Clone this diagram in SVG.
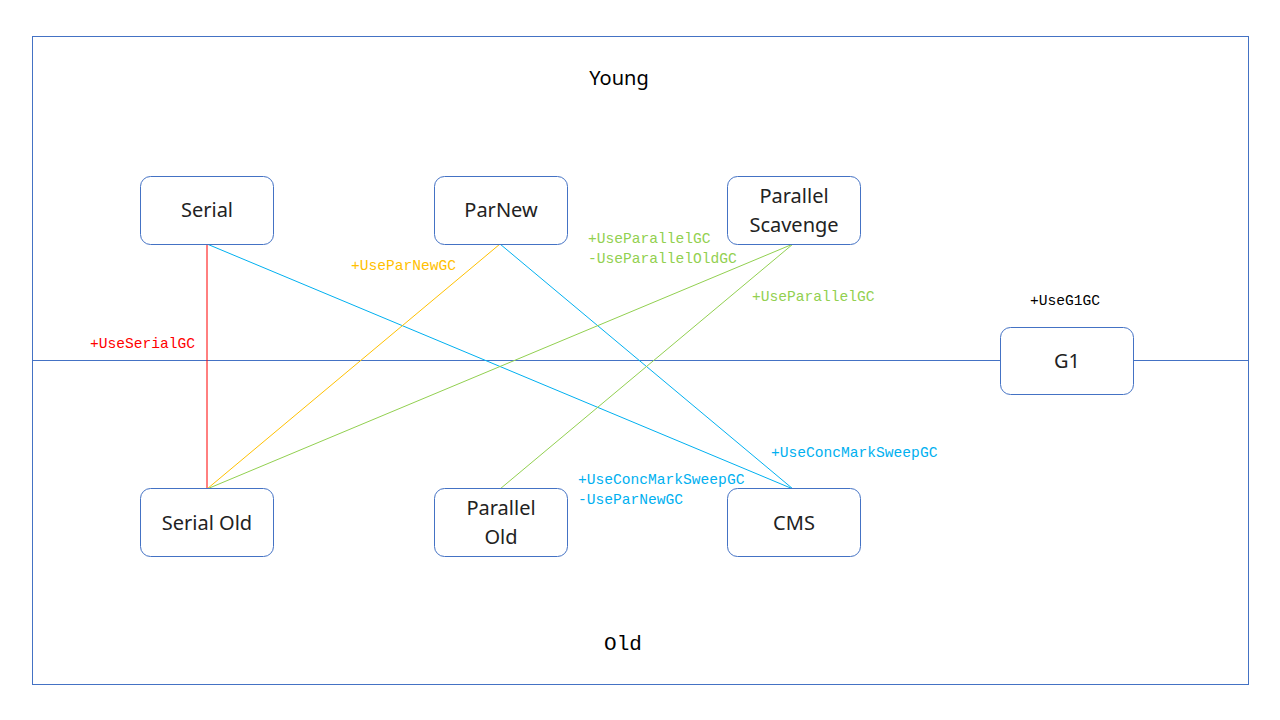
<svg xmlns="http://www.w3.org/2000/svg" width="1280" height="720" viewBox="0 0 1280 720">
<style>
.frame{fill:none;stroke:#4472C4;stroke-width:1}
.node rect{fill:#fff;stroke:#4472C4;stroke-width:1}
.node text{font-family:"Noto Sans","Liberation Sans",sans-serif;font-size:20px;fill:#222;text-anchor:middle}
.mono{font-family:"Liberation Mono","DejaVu Sans Mono",monospace;font-size:14.6px}
.title{font-family:"Noto Sans","Liberation Sans",sans-serif;font-size:20px;fill:#000;text-anchor:middle}
.red{stroke:#FF0000}.blue{stroke:#00B0F0}.orange{stroke:#FFC000}.green{stroke:#92D050}
#connectors line{stroke-width:1;fill:none}
</style>
<rect width="1280" height="720" fill="#fff"/>
<rect class="frame" x="32.5" y="36.5" width="1216" height="648"/>
<line x1="32" y1="360.5" x2="1248" y2="360.5" stroke="#4472C4" stroke-width="1"/>
<text class="title" x="619" y="85">Young</text>
<text class="mono" x="623" y="650" text-anchor="middle" style="font-size:21px" fill="#000">Old</text>
<g id="connectors">
<line class="red" x1="207" y1="244" x2="207" y2="489"/>
<line class="blue" x1="207" y1="244" x2="793" y2="489"/>
<line class="orange" x1="500" y1="244" x2="207" y2="489"/>
<line class="blue" x1="500" y1="244" x2="793" y2="489"/>
<line class="green" x1="793" y1="244" x2="207" y2="489"/>
<line class="green" x1="793" y1="244" x2="500" y2="489"/>
</g>
<g id="labels">
<text class="mono" x="90" y="348" fill="#FF0000">+UseSerialGC</text>
<text class="mono" x="351" y="270" fill="#FFC000">+UseParNewGC</text>
<text class="mono" x="588" y="243" fill="#92D050">+UseParallelGC</text>
<text class="mono" x="588" y="263" fill="#92D050">-UseParallelOldGC</text>
<text class="mono" x="752" y="301" fill="#92D050">+UseParallelGC</text>
<text class="mono" x="1030" y="305" fill="#000">+UseG1GC</text>
<text class="mono" x="771" y="457" fill="#00B0F0">+UseConcMarkSweepGC</text>
<text class="mono" x="578" y="484" fill="#00B0F0">+UseConcMarkSweepGC</text>
<text class="mono" x="578" y="504" fill="#00B0F0">-UseParNewGC</text>
</g>
<g id="serial" class="node"><rect x="140.5" y="176.5" width="133" height="68" rx="10"/><text x="207" y="217">Serial</text></g>
<g id="parnew" class="node"><rect x="434.5" y="176.5" width="133" height="68" rx="10"/><text x="501" y="217">ParNew</text></g>
<g id="parallel-scavenge" class="node"><rect x="727.5" y="176.5" width="133" height="68" rx="10"/><text x="794" y="203">Parallel</text><text x="794" y="232">Scavenge</text></g>
<g id="g1" class="node"><rect x="1000.5" y="327.5" width="133" height="67" rx="10"/><text x="1067" y="368">G1</text></g>
<g id="serial-old" class="node"><rect x="140.5" y="488.5" width="133" height="68" rx="10"/><text x="207" y="530">Serial Old</text></g>
<g id="parallel-old" class="node"><rect x="434.5" y="488.5" width="133" height="68" rx="10"/><text x="501" y="515">Parallel</text><text x="501" y="544">Old</text></g>
<g id="cms" class="node"><rect x="727.5" y="488.5" width="133" height="68" rx="10"/><text x="794" y="530">CMS</text></g>
</svg>
